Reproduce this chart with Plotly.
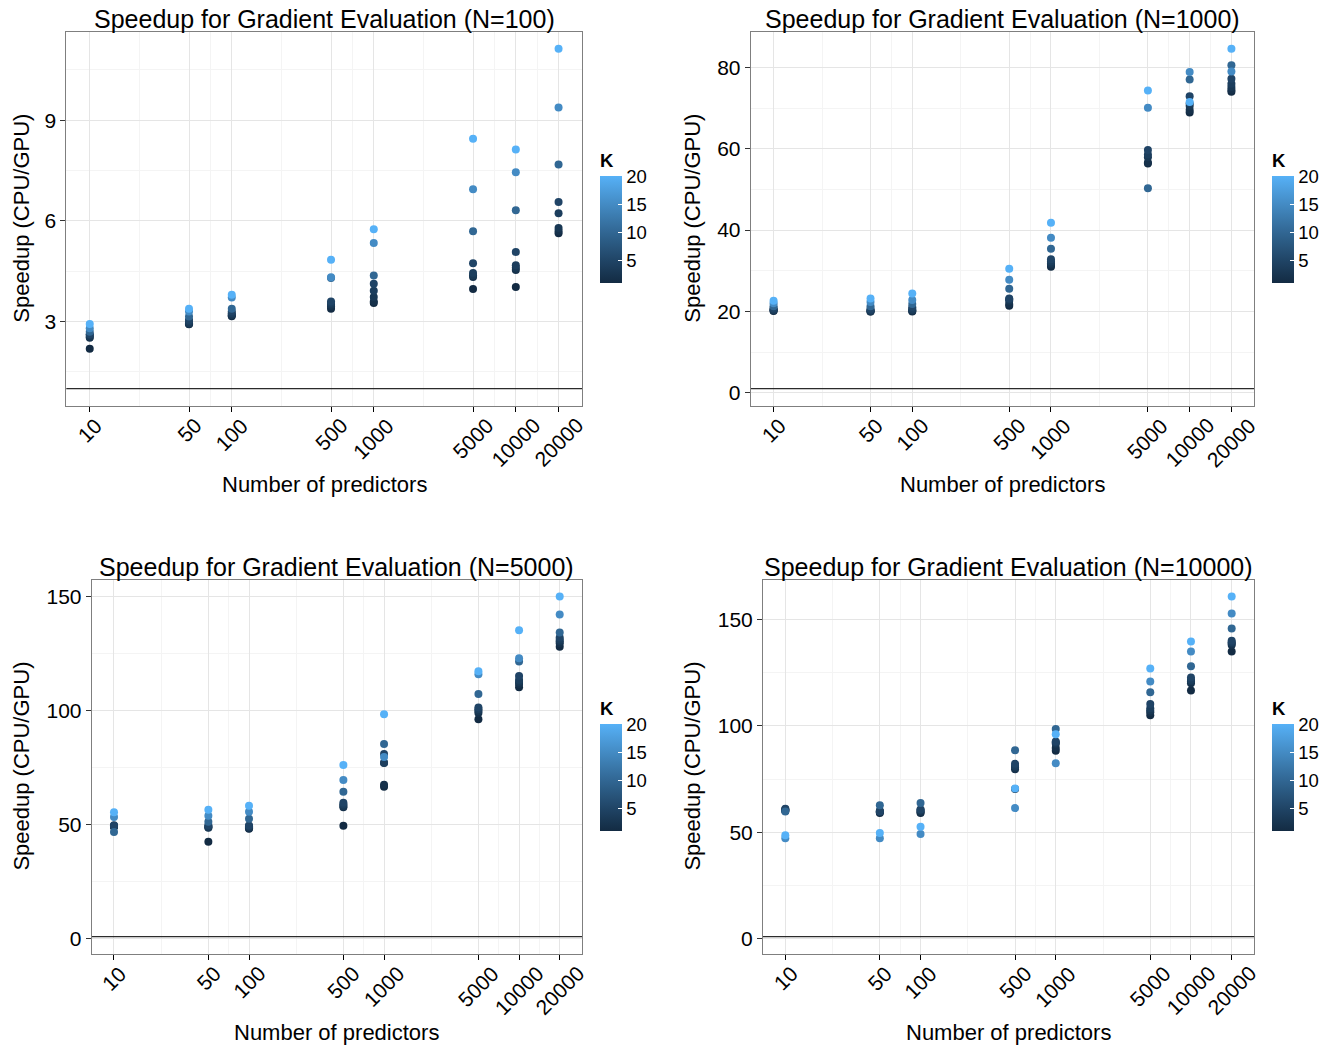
import numpy as np
import plotly.graph_objects as go

# ---------------- data ----------------
predictors = [10, 50, 100, 500, 1000, 5000, 10000, 20000]
K_values = [1, 2, 3, 4, 5, 10, 15, 20]
tick_labels = ["10", "50", "100", "500", "1000", "5000", "10000", "20000"]
sample_sizes = [100, 1000, 5000, 10000]

# speedup[p][k] : rows follow `predictors`, columns follow `K_values`
speedup_N100 = [
    [2.19, 2.52, 2.55, 2.60, 2.62, 2.70, 2.80, 2.93],
    [2.93, 2.92, 2.95, 3.00, 3.05, 3.15, 3.30, 3.38],
    [3.16, 3.18, 3.20, 3.25, 3.30, 3.38, 3.72, 3.80],
    [3.38, 3.45, 3.50, 3.55, 3.60, 4.30, 4.32, 4.84],
    [3.55, 3.60, 3.73, 3.92, 4.13, 4.37, 5.34, 5.75],
    [3.97, 4.33, 4.38, 4.45, 4.74, 5.69, 6.94, 8.45],
    [4.03, 4.54, 4.60, 4.68, 5.07, 6.32, 7.45, 8.13],
    [5.63, 5.70, 5.79, 6.23, 6.56, 7.68, 9.38, 11.13],
]
speedup_N1000 = [
    [20.1, 20.2, 20.3, 20.5, 20.8, 21.3, 22.0, 22.6],
    [20.0, 20.0, 20.1, 20.3, 20.6, 21.3, 22.3, 23.2],
    [20.0, 20.1, 20.3, 20.6, 21.0, 21.8, 22.8, 24.4],
    [21.4, 21.8, 22.6, 23.0, 23.2, 25.6, 27.8, 30.5],
    [31.0, 31.4, 31.8, 32.3, 32.8, 35.4, 38.1, 41.8],
    [56.4, 56.6, 57.9, 58.6, 59.7, 50.3, 70.1, 74.3],
    [68.9, 69.5, 70.5, 71.1, 72.9, 77.0, 78.9, 71.5],
    [74.0, 74.5, 75.2, 76.0, 77.2, 80.5, 79.0, 84.6],
]
speedup_N5000 = [
    [49.0, 49.2, 49.4, 49.6, 49.8, 46.8, 53.4, 55.5],
    [42.6, 48.9, 48.7, 49.2, 49.8, 51.3, 53.9, 56.6],
    [48.3, 48.5, 48.9, 49.3, 49.7, 52.6, 55.7, 58.3],
    [49.6, 57.7, 58.2, 58.9, 59.6, 64.4, 69.6, 76.2],
    [66.6, 67.5, 77.0, 77.1, 81.0, 85.3, 79.7, 98.4],
    [96.2, 98.9, 99.8, 100.5, 101.3, 107.2, 115.9, 117.2],
    [110.2, 111.6, 112.5, 113.4, 115.1, 121.4, 122.9, 135.1],
    [127.9, 129.4, 130.2, 131.0, 132.0, 134.2, 142.0, 149.9],
]
speedup_N10000 = [
    [60.0, 60.3, 60.6, 60.9, 61.1, 59.8, 47.3, 48.6],
    [59.1, 59.4, 59.8, 60.2, 59.8, 62.8, 47.3, 49.7],
    [59.1, 59.5, 60.0, 60.6, 60.8, 63.75, 49.2, 52.7],
    [70.4, 79.7, 80.5, 81.2, 82.2, 88.6, 61.4, 70.6],
    [88.4, 89.6, 91.6, 92.2, 92.7, 98.6, 82.5, 96.1],
    [105.0, 106.4, 107.3, 108.3, 110.3, 115.8, 120.9, 127.0],
    [116.7, 120.0, 121.0, 121.6, 122.8, 128.0, 135.0, 139.7],
    [135.0, 138.0, 138.75, 139.3, 140.0, 145.8, 152.8, 160.8],
]
panel_data = [speedup_N100, speedup_N1000, speedup_N5000, speedup_N10000]
y_ticks = [[3, 6, 9], [0, 20, 40, 60, 80], [0, 50, 100, 150], [0, 50, 100, 150]]
y_minor = [[1.5, 4.5, 7.5, 10.5], [10, 30, 50, 70], [25, 75, 125], [25, 75, 125]]
reference_line = 1.0

# ---------------- style ----------------
PAGE_W, PAGE_H = 1335, 1047
OFF = 8  # default page margin around the plot div
W, H = PAGE_W - OFF, PAGE_H - OFF
FONT = "Liberation Sans, Arial, Helvetica, sans-serif"
TICK_FS = 21
AXTITLE_FS = 22
TITLE_FS = 25
LEG_FS = 18.5

# plot areas in page pixels: (left, right, top, bottom)
boxes = [
    (66.3, 582.0, 31.7, 405.7),
    (750.7, 1254.3, 31.7, 405.7),
    (91.7, 582.0, 579.5, 953.7),
    (763.0, 1254.0, 579.5, 953.7),
]
cbar_x = [600, 1272, 600, 1272]


def px_x(v):
    return (v - OFF) / W


def px_y(v):
    return 1 - (v - OFF) / H


# ggplot2 default continuous colour scale (Lab interpolation #132B43 -> #56B1F7)
def _srgb_to_lin(c):
    c = c / 255.0
    return np.where(c <= 0.04045, c / 12.92, ((c + 0.055) / 1.055) ** 2.4)


def _lin_to_srgb(c):
    c = np.clip(c, 0, 1)
    v = np.where(c <= 0.0031308, 12.92 * c, 1.055 * c ** (1 / 2.4) - 0.055)
    return np.clip(np.round(v * 255), 0, 255).astype(int)


M = np.array([[0.4124, 0.3576, 0.1805], [0.2126, 0.7152, 0.0722], [0.0193, 0.1192, 0.9505]])
WHITE = np.array([0.95047, 1.0, 1.08883])


def _f(t):
    return np.where(t > 216 / 24389, np.cbrt(t), (24389 / 27 * t + 16) / 116)


def _finv(t):
    return np.where(t ** 3 > 216 / 24389, t ** 3, (116 * t - 16) / (24389 / 27))


def hex_to_lab(h):
    rgb = np.array([int(h[i:i + 2], 16) for i in (1, 3, 5)], dtype=float)
    xyz = M @ _srgb_to_lin(rgb) / WHITE
    fx, fy, fz = _f(xyz)
    return np.array([116 * fy - 16, 500 * (fx - fy), 200 * (fy - fz)])


def lab_to_hex(lab):
    L, a, b = lab
    fy = (L + 16) / 116
    fx = fy + a / 500
    fz = fy - b / 200
    xyz = np.array([_finv(fx), _finv(fy), _finv(fz)]) * WHITE
    rgb = _lin_to_srgb(np.linalg.solve(M, xyz))
    return "#%02x%02x%02x" % tuple(rgb)


lo, hi = hex_to_lab("#132B43"), hex_to_lab("#56B1F7")
colorscale = [[t, lab_to_hex(lo + (hi - lo) * t)] for t in np.linspace(0, 1, 11)]

fig = go.Figure()
annotations = []
layout = dict(
    width=W, height=H, margin=dict(l=0, r=0, t=0, b=0),
    paper_bgcolor="white", plot_bgcolor="white",
    font=dict(family=FONT, color="black"),
    showlegend=False,
)

x_lo, x_hi = np.log10(min(predictors)), np.log10(max(predictors))
x_pad = 0.05 * (x_hi - x_lo)
log_breaks = np.log10(predictors)
x_minor_vals = [10 ** ((log_breaks[i] + log_breaks[i + 1]) / 2) for i in range(len(predictors) - 1)]

for i, (n, data) in enumerate(zip(sample_sizes, panel_data)):
    idx = "" if i == 0 else str(i + 1)
    l, r, t, b = boxes[i]
    arr = np.array(data)
    xs = np.repeat(predictors, len(K_values))
    ys = arr.ravel()
    ks = np.tile(K_values, len(predictors))
    order = np.argsort(ks, kind="stable")
    fig.add_trace(go.Scatter(
        x=xs[order], y=ys[order], mode="markers",
        marker=dict(size=8, color=ks[order], coloraxis="coloraxis" + idx, line=dict(width=0)),
        xaxis="x" + idx, yaxis="y" + idx,
    ))
    fig.add_trace(go.Scatter(
        x=[10 ** (x_lo - 2 * x_pad), 10 ** (x_hi + 2 * x_pad)], y=[reference_line, reference_line],
        mode="lines", line=dict(color="#2b2b2b", width=1.2),
        xaxis="x" + idx, yaxis="y" + idx, hoverinfo="skip",
    ))
    y_min = min(reference_line, ys.min())
    y_max = max(reference_line, ys.max())
    y_pad = 0.05 * (y_max - y_min)
    layout["xaxis" + idx] = dict(
        type="log", domain=[px_x(l), px_x(r)], anchor="y" + idx,
        range=[x_lo - x_pad, x_hi + x_pad],
        tickvals=predictors, showticklabels=False,
        ticks="outside", ticklen=5, tickwidth=1.2, tickcolor="black",
        showgrid=True, gridcolor="#e5e5e5", gridwidth=1.3,
        minor=dict(tickmode="array", tickvals=x_minor_vals, showgrid=True, gridcolor="#f4f4f4", gridwidth=1, ticks=""),
        showline=True, mirror=True, linecolor="#7f7f7f", linewidth=1,
        zeroline=False,
    )
    layout["yaxis" + idx] = dict(
        domain=[px_y(b), px_y(t)], anchor="x" + idx,
        range=[y_min - y_pad, y_max + y_pad],
        tickvals=y_ticks[i], ticks="outside", ticklen=5, tickwidth=1, tickcolor="#333333",
        tickfont=dict(size=TICK_FS, color="black"),
        showgrid=True, gridcolor="#e5e5e5", gridwidth=1,
        minor=dict(tickmode="array", tickvals=y_minor[i], showgrid=True, gridcolor="#f4f4f4", gridwidth=1, ticks=""),
        showline=True, mirror=True, linecolor="#7f7f7f", linewidth=1,
        zeroline=False,
    )
    cb_top, cb_bot = t + 119, t + 251.5
    layout["coloraxis" + idx] = dict(
        cmin=1, cmax=20, colorscale=colorscale,
        colorbar=dict(
            x=px_x(cbar_x[i]), xanchor="left", xpad=0,
            y=px_y((cb_top + cb_bot) / 2), yanchor="middle", ypad=0,
            lenmode="pixels", len=cb_bot - cb_top, thicknessmode="pixels", thickness=22,
            title=dict(text="<b>K</b>", side="top", font=dict(size=LEG_FS, family=FONT)),
            tickvals=[5, 10, 15, 20], ticks="inside", ticklen=4, tickcolor="white", tickwidth=1,
            tickfont=dict(size=LEG_FS, family=FONT), outlinewidth=0,
        ),
    )
    # panel title
    annotations.append(dict(
        text=f"Speedup for Gradient Evaluation (N={n})", x=px_x((l + r) / 2), y=px_y(t - 13),
        xref="paper", yref="paper", xanchor="center", yanchor="middle", showarrow=False,
        font=dict(size=TITLE_FS, family=FONT),
    ))
    # axis titles
    annotations.append(dict(
        text="Number of predictors", x=px_x((l + r) / 2), y=px_y(b + 79),
        xref="paper", yref="paper", xanchor="center", yanchor="middle", showarrow=False,
        font=dict(size=AXTITLE_FS, family=FONT),
    ))
    annotations.append(dict(
        text="Speedup (CPU/GPU)", x=px_x(22 if i % 2 == 0 else 693), y=px_y((t + b) / 2),
        xref="paper", yref="paper", xanchor="center", yanchor="middle", showarrow=False,
        textangle=-90, font=dict(size=AXTITLE_FS, family=FONT),
    ))
    # rotated x tick labels (centred on their ticks, as in the original)
    for p, lab in zip(predictors, tick_labels):
        annotations.append(dict(
            text=lab, x=np.log10(p), y=px_y(b + 7), xref="x" + idx, yref="paper",
            xanchor="center", yanchor="top", showarrow=False, textangle=-45,
            font=dict(size=TICK_FS, family=FONT), borderpad=0,
        ))

layout["annotations"] = annotations
fig.update_layout(**layout)
fig.write_html("out.html")
